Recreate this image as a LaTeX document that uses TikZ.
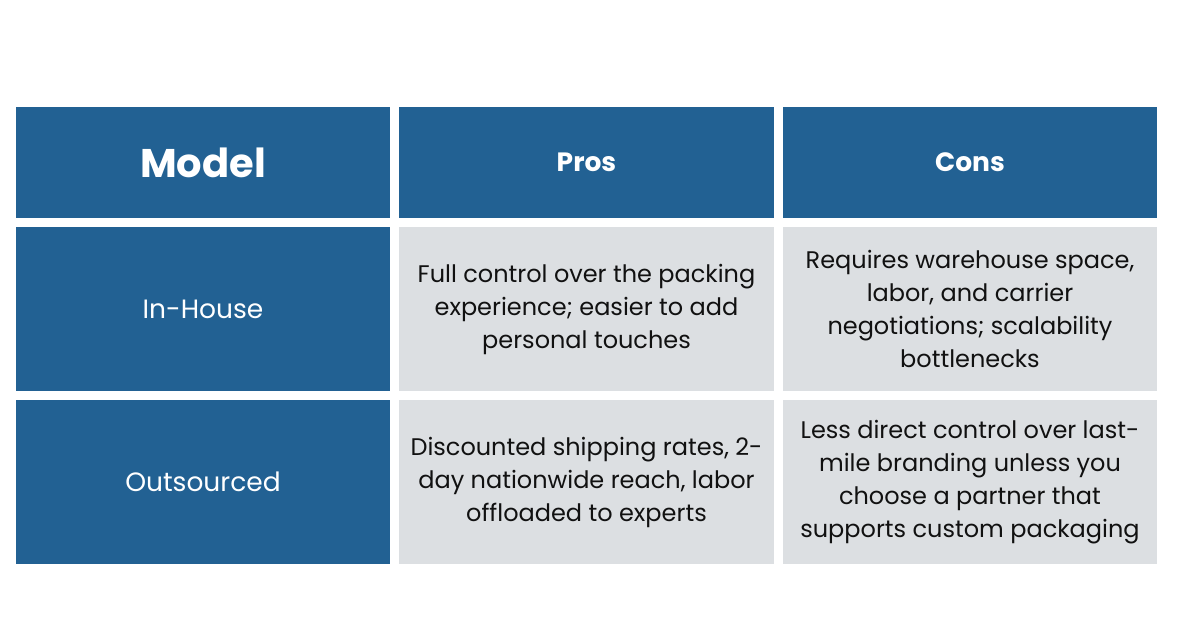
\documentclass[tikz,border=0pt]{standalone}
\usepackage{fontspec}
\setmainfont{Poppins}
\definecolor{hdrblue}{HTML}{226193}
\definecolor{cellgray}{HTML}{DCDFE2}
\definecolor{txt}{HTML}{111111}
\begin{document}
\begin{tikzpicture}[x=1pt,y=1pt,
  cell/.style={anchor=north west,inner sep=0pt,outer sep=0pt,align=center},
  bluecell/.style={cell,fill=hdrblue,text=white},
  graycell/.style={cell,fill=cellgray,text=txt},
  body/.style={font=\fontsize{24}{33}\selectfont},
  rowlbl/.style={font=\fontsize{26.5}{33}\selectfont},
  hdr/.style={font=\fontsize{26.5}{30}\selectfont\bfseries},
  bighdr/.style={font=\fontsize{40}{46}\selectfont\bfseries}]
\useasboundingbox (0,0) rectangle (1200,-627);
\fill[white] (0,0) rectangle (1200,-627);
% header row
\node[bluecell,bighdr,minimum width=374,minimum height=111] (h1) at (16,-107) {Model};
\node[bluecell,hdr,minimum width=375,minimum height=111] (h2) at (399,-107) {Pros};
\node[bluecell,hdr,minimum width=374,minimum height=111] (h3) at (783,-107) {Cons};
% row 1
\node[bluecell,rowlbl,minimum width=374,minimum height=164] (a1) at (16,-227) {In-House};
\node[graycell,body,minimum width=375,minimum height=164] (a2) at (399,-227) {Full control over the packing\\experience; easier to add\\personal touches};
\node[graycell,body,minimum width=374,minimum height=164] (a3) at (783,-227) {Requires warehouse space,\\labor, and carrier\\negotiations; scalability\\bottlenecks};
% row 2
\node[bluecell,rowlbl,minimum width=374,minimum height=164] (b1) at (16,-400) {Outsourced};
\node[graycell,body,minimum width=375,minimum height=164] (b2) at (399,-400) {Discounted shipping rates, 2-\\day nationwide reach, labor\\offloaded to experts};
\node[graycell,body,minimum width=374,minimum height=164] (b3) at (783,-400) {Less direct control over last-\\mile branding unless you\\choose a partner that\\supports custom packaging};
\end{tikzpicture}
\end{document}
